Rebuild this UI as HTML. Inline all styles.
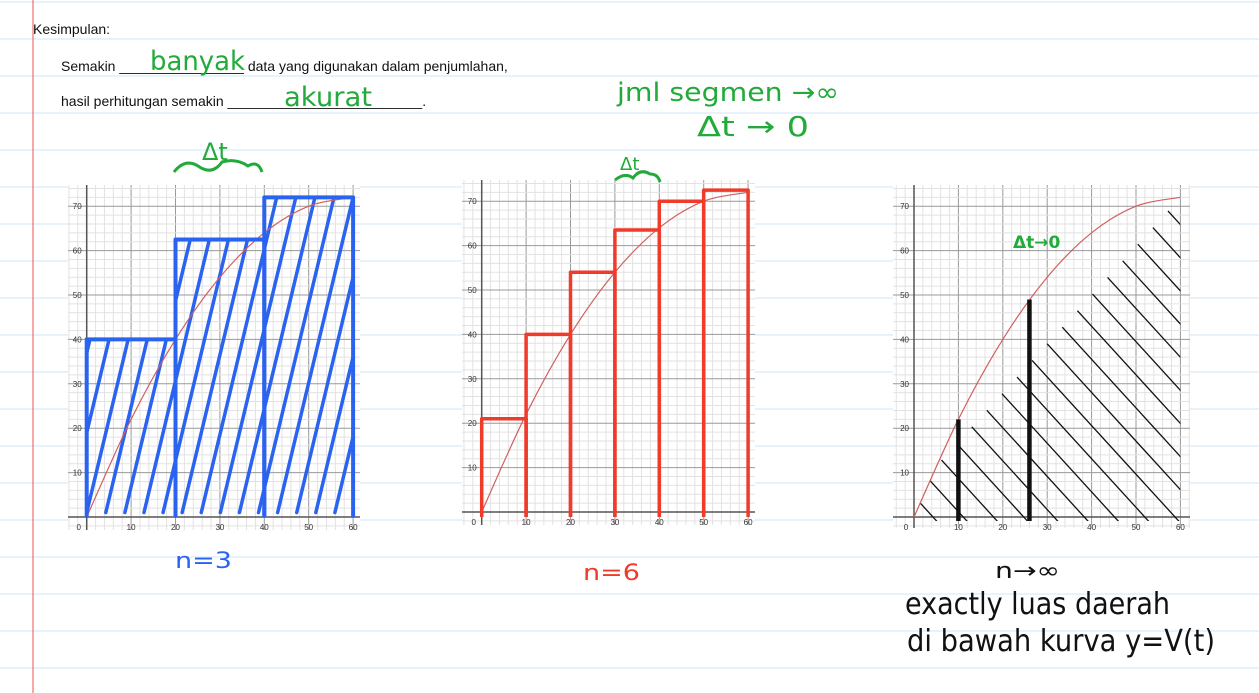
<!DOCTYPE html>
<html><head><meta charset="utf-8">
<style>
body{margin:0;width:1259px;height:693px;overflow:hidden;background:#fff;font-family:"Liberation Sans",sans-serif;}
svg{position:absolute;left:0;top:0}
.hw{font-family:"DejaVu Sans","Liberation Sans",sans-serif;}
</style></head>
<body>
<svg id="s" width="1259" height="693" viewBox="0 0 1259 693" xmlns="http://www.w3.org/2000/svg">
<defs id="defs"></defs>
<g id="lines"></g>
<line x1="33" y1="0" x2="33" y2="693" stroke="#f05050" stroke-width="1"/>
<text x="33" y="34" font-size="14" fill="#111">Kesimpulan:</text>
<text x="61" y="71" font-size="14" fill="#111">Semakin ________________ data yang digunakan dalam penjumlahan,</text>
<text x="61" y="106" font-size="14" fill="#111">hasil perhitungan semakin _________________________.</text>
<text class="hw" x="150" y="70" font-size="27" fill="#22aa3a" textLength="95" lengthAdjust="spacingAndGlyphs">banyak</text>
<text class="hw" x="284" y="106" font-size="27" fill="#22aa3a" textLength="88" lengthAdjust="spacingAndGlyphs">akurat</text>
<text class="hw" x="617" y="101" font-size="26" fill="#22aa3a" textLength="222" lengthAdjust="spacingAndGlyphs">jml segmen →∞</text>
<text class="hw" x="697" y="136" font-size="28" fill="#22aa3a" textLength="112" lengthAdjust="spacingAndGlyphs">Δt → 0</text>
<g id="c1"></g>
<g id="c2"></g>
<g id="c3"></g>
<text class="hw" x="202" y="160" font-size="24" fill="#22aa3a">Δt</text>
<path d="M174 172 Q185 158 198 166 Q212 176 222 162 Q236 158 248 166 Q258 160 262 172" fill="none" stroke="#22aa3a" stroke-width="3"/>
<text class="hw" x="620" y="170" font-size="18" fill="#22aa3a">Δt</text>
<path d="M615 180 Q625 172 633 178 Q640 168 650 174 Q658 174 660 182" fill="none" stroke="#22aa3a" stroke-width="3"/>
<text class="hw" x="1013" y="248" font-size="17" fill="#22aa3a" font-weight="bold">Δt→0</text>
<text class="hw" x="175" y="568" font-size="22" fill="#2a63f0" textLength="57" lengthAdjust="spacingAndGlyphs">n=3</text>
<text class="hw" x="583" y="580" font-size="22" fill="#f03a2a" textLength="57" lengthAdjust="spacingAndGlyphs">n=6</text>
<text class="hw" x="995" y="578" font-size="22" fill="#111" textLength="65" lengthAdjust="spacingAndGlyphs">n→∞</text>
<text class="hw" x="905" y="614" font-size="30" fill="#111" textLength="265" lengthAdjust="spacingAndGlyphs">exactly luas daerah</text>
<text class="hw" x="907" y="651" font-size="30" fill="#111" textLength="308" lengthAdjust="spacingAndGlyphs">di bawah kurva y=V(t)</text>
</svg>
<script>
const curveT=[0,10,20,30,40,50,60];
const curveV=[0,22,40,54,64,70,72];
const bars1T=[20,40,60]; const bars1V=[40,62.5,72];
const bars2T=[10,20,30,40,50,60]; const bars2V=[21,40,54,63.5,70,72.5];
const bars3T=[10,26]; const bars3V=[22,49];
const xTicks=[0,10,20,30,40,50,60];
const yTicks=[10,20,30,40,50,60,70];
const NS="http://www.w3.org/2000/svg";
const defs=document.getElementById('defs');
function mk(tag,at,par){const e=document.createElementNS(NS,tag);for(const k in at)e.setAttribute(k,at[k]);par.appendChild(e);return e;}
const L=document.getElementById('lines');
for(let y=2;y<693;y+=37){const l=mk('line',{x1:0,x2:1259,y1:y,y2:y,stroke:'#cfe6f5','stroke-width':1},L);

}
function curvePath(sx,sy){const P=curveT.map((t,i)=>[sx(t),sy(curveV[i])]);
 let d='M'+P[0];for(let i=0;i<P.length-1;i++){const p0=P[Math.max(0,i-1)],p1=P[i],p2=P[i+1],p3=P[Math.min(P.length-1,i+2)];
  d+=' C'+(p1[0]+(p2[0]-p0[0])/6)+','+(p1[1]+(p2[1]-p0[1])/6)+' '+(p2[0]-(p3[0]-p1[0])/6)+','+(p2[1]-(p3[1]-p1[1])/6)+' '+p2[0]+','+p2[1];}
 return d;}
function chart(g,x0,y0,frame){
 const sx=t=>x0+t*4.44, sy=v=>y0-v*4.44;
 const bg=mk('rect',{x:frame[0],y:frame[1],width:frame[2]-frame[0],height:frame[3]-frame[1],fill:'#fff'},g);
 
 
 for(let t=-4;t<=62;t+=2){const x=sx(t);if(x<frame[0]||x>frame[2])continue;
  const l=mk('line',{x1:x,x2:x,y1:frame[1],y2:frame[3],stroke:t%10==0?'#999':'#e2e2e2','stroke-width':1},g);
  
  }
 for(let v=-4;v<=76;v+=2){const y=sy(v);if(y<frame[1]||y>frame[3])continue;
  const l=mk('line',{x1:frame[0],x2:frame[2],y1:y,y2:y,stroke:v%10==0?'#999':'#e2e2e2','stroke-width':1},g);
  
  }
 const ax=mk('line',{x1:frame[0],x2:frame[2],y1:sy(0),y2:sy(0),stroke:'#555','stroke-width':1.5},g);
 
 
 const ay=mk('line',{x1:sx(0),x2:sx(0),y1:frame[1],y2:frame[3],stroke:'#555','stroke-width':1.5},g);
 
 
 xTicks.forEach(t=>{const e=mk('text',{x:sx(t)-(t?0:8),y:sy(0)+13,'font-size':8,fill:'#333','text-anchor':'middle'},g);e.textContent=t;
  
  });
 yTicks.forEach(v=>{const e=mk('text',{x:sx(0)-5,y:sy(v)+3,'font-size':8,fill:'#333','text-anchor':'end'},g);e.textContent=v;
  
  });
 return {sx,sy};
}
function drawCurve(g,a){const c=mk('path',{d:curvePath(a.sx,a.sy),fill:'none',stroke:'#d06060','stroke-width':1.2},g);
 
 }
// chart 1
const g1=document.getElementById('c1');const a1=chart(g1,86.7,517,[68,185,360,530]);
let prev=0,cd='';
bars1T.forEach((t,i)=>{cd+=`M${a1.sx(prev)} ${a1.sy(0)} V${a1.sy(bars1V[i])} H${a1.sx(t)} V${a1.sy(0)} Z `;prev=t;});
const cp1=mk('clipPath',{id:'clip1'},defs);mk('path',{d:cd},cp1);
const h1=mk('g',{'clip-path':'url(#clip1)'},g1);


for(let k=-6;k<16;k++){const tb=k*4.3;const l=mk('line',{x1:a1.sx(tb),y1:a1.sy(1),x2:a1.sx(tb+17),y2:a1.sy(72),stroke:'#2a63f0','stroke-width':3.5,'stroke-linecap':'round'},h1);
 
 }
drawCurve(g1,a1);
prev=0;
bars1T.forEach((t,i)=>{const r=mk('path',{d:`M${a1.sx(prev)} ${a1.sy(0)} V${a1.sy(bars1V[i])} H${a1.sx(t)} V${a1.sy(0)}`,fill:'none',stroke:'#2a63f0','stroke-width':4,'stroke-linejoin':'round'},g1);
 
 prev=t;});
// chart 2
const g2=document.getElementById('c2');const a2=chart(g2,481.7,512,[462,180,755,525]);
drawCurve(g2,a2);
prev=0;
bars2T.forEach((t,i)=>{const r=mk('path',{d:`M${a2.sx(prev)} ${a2.sy(0)+5} V${a2.sy(bars2V[i])} H${a2.sx(t)} V${a2.sy(0)+5}`,fill:'none',stroke:'#f03a2a','stroke-width':3.5,'stroke-linejoin':'round'},g2);
 
 prev=t;});
// chart 3
const g3=document.getElementById('c3');const a3=chart(g3,914,517,[893,185,1190,528]);
const cp3=mk('clipPath',{id:'clip3'},defs);
mk('path',{d:curvePath(a3.sx,a3.sy)+` L${a3.sx(60)} ${a3.sy(0)+4} L${a3.sx(0)} ${a3.sy(0)+4} Z`},cp3);
const h3=mk('g',{'clip-path':'url(#clip3)'},g3);


for(let k=0;k<22;k++){const t0=-4+k*3.4;
 const l=mk('line',{x1:a3.sx(t0),y1:a3.sy(t0*1.1+6),x2:a3.sx(t0+42),y2:a3.sy(t0*1.1+6-46),stroke:'#111','stroke-width':1.3},h3);
 
 }
drawCurve(g3,a3);
bars3T.forEach((t,i)=>{const r=mk('line',{x1:a3.sx(t),x2:a3.sx(t),y1:a3.sy(0)+4,y2:a3.sy(bars3V[i]),stroke:'#111','stroke-width':4.5},g3);
 
 });
</script>
</body></html>
